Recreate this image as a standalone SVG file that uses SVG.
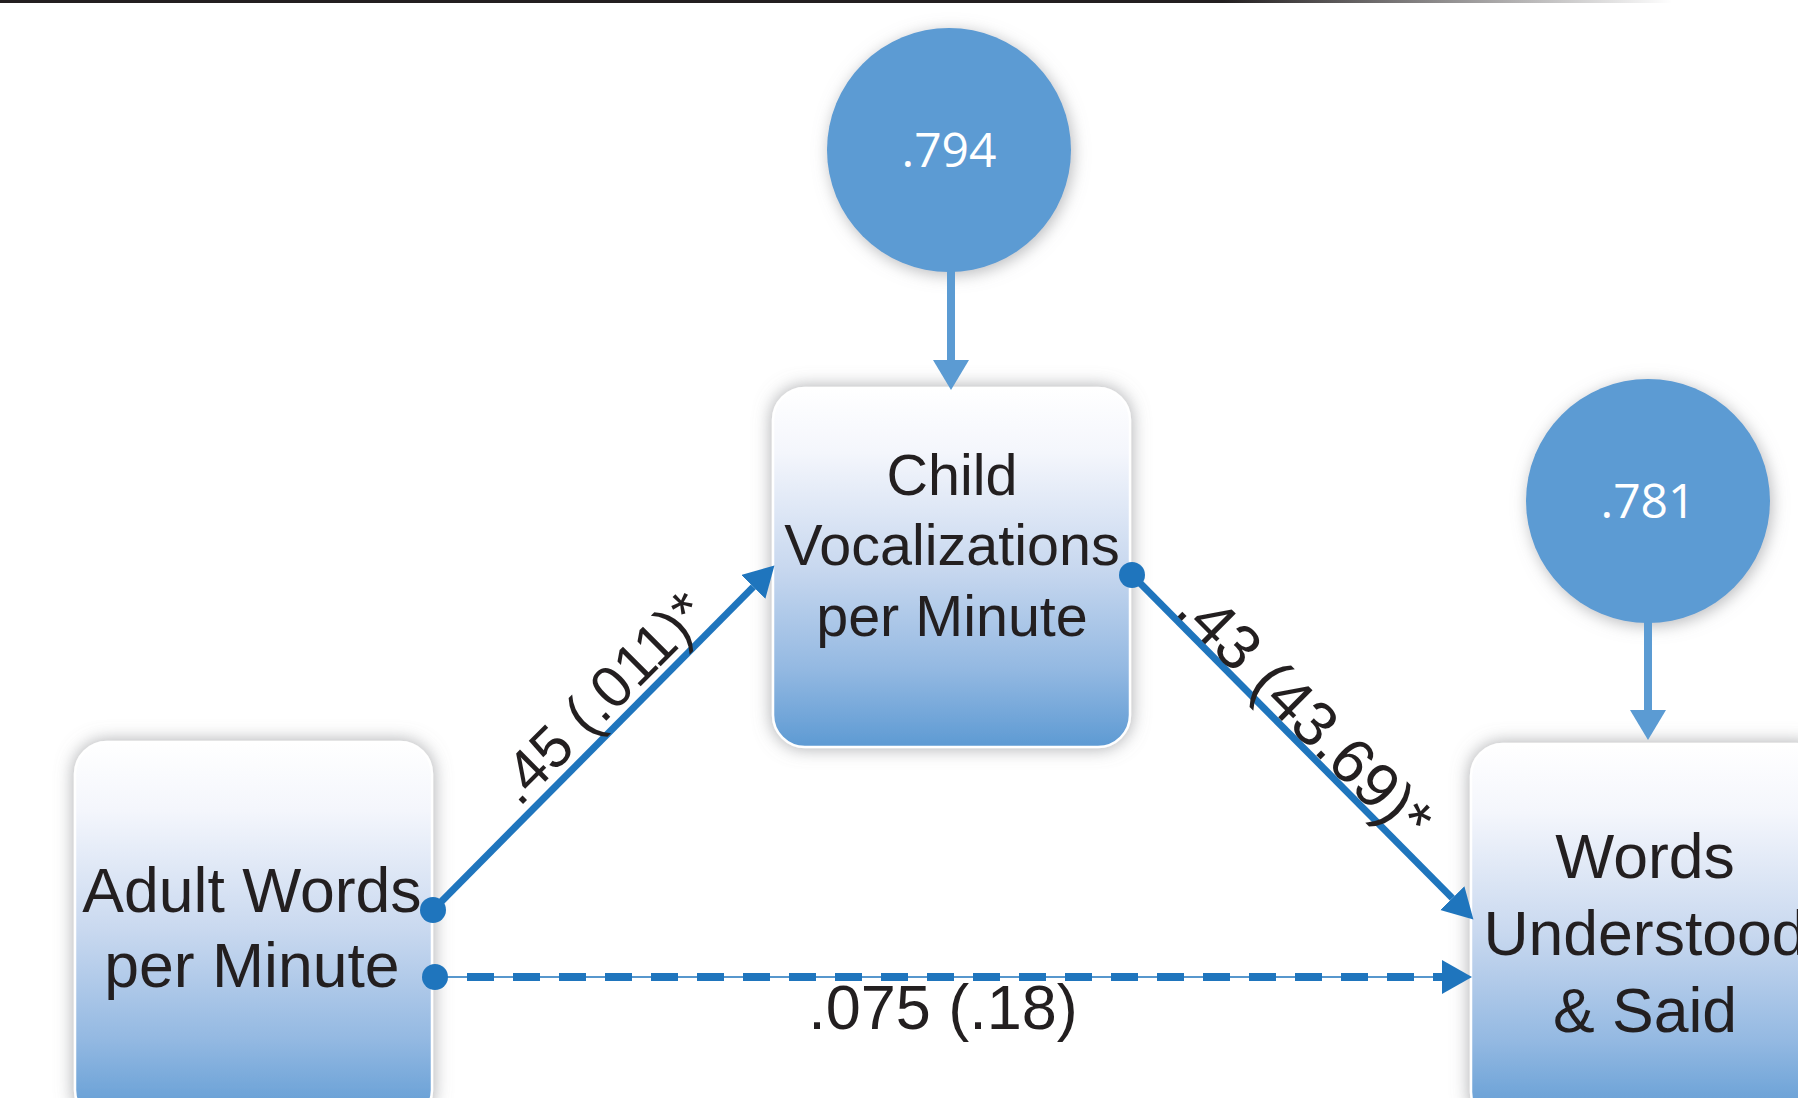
<svg xmlns="http://www.w3.org/2000/svg" width="1798" height="1098" viewBox="0 0 1798 1098">
<defs>
<linearGradient id="boxg" x1="0" y1="0" x2="0" y2="1">
<stop offset="0" stop-color="#ffffff"/>
<stop offset="0.18" stop-color="#f4f6fc"/>
<stop offset="0.5" stop-color="#c8d8ef"/>
<stop offset="0.78" stop-color="#94b9e2"/>
<stop offset="1" stop-color="#5d9ad3"/>
</linearGradient>
<linearGradient id="barg" x1="0" y1="0" x2="1" y2="0">
<stop offset="0" stop-color="#231f20"/>
<stop offset="0.68" stop-color="#231f20"/>
<stop offset="0.93" stop-color="#ffffff"/>
</linearGradient>
<filter id="shadow" x="-20%" y="-20%" width="140%" height="140%">
<feGaussianBlur in="SourceAlpha" stdDeviation="9"/>
<feOffset dx="0" dy="0" result="b"/>
<feFlood flood-color="#8a8c90" flood-opacity="0.75"/>
<feComposite in2="b" operator="in"/>
<feMerge><feMergeNode/><feMergeNode in="SourceGraphic"/></feMerge>
</filter>
<filter id="cshadow" x="-20%" y="-20%" width="140%" height="140%">
<feGaussianBlur in="SourceAlpha" stdDeviation="8"/>
<feOffset dx="2" dy="3" result="b"/>
<feFlood flood-color="#8a8c90" flood-opacity="0.6"/>
<feComposite in2="b" operator="in"/>
<feMerge><feMergeNode/><feMergeNode in="SourceGraphic"/></feMerge>
</filter>
<marker id="ah" markerUnits="userSpaceOnUse" markerWidth="32" markerHeight="36" refX="0" refY="17" orient="auto">
<path d="M0,0 L30,17 L0,34 Z" fill="#1f75bd"/>
</marker>
<marker id="ah2" markerUnits="userSpaceOnUse" markerWidth="32" markerHeight="38" refX="0" refY="18" orient="auto">
<path d="M0,0 L30,18 L0,36 Z" fill="#5b9bd3"/>
</marker>
<style>
.box{fill:url(#boxg);stroke:#ffffff;stroke-width:2.5;filter:url(#shadow)}
.circ{fill:#5b9bd3;filter:url(#cshadow)}
.lbl{font-family:"Liberation Sans",Arial,sans-serif;fill:#231f20;text-anchor:middle}
.ctext{font-family:"Open Sans","Noto Sans",sans-serif;fill:#ffffff;font-size:48px;text-anchor:middle}
.conn{stroke:#1f75bd;stroke-width:7;fill:none}
.err{stroke:#5b9bd3;stroke-width:8;fill:none}
.dot{fill:#1f75bd}
</style>
</defs>
<rect x="0" y="0" width="1798" height="1098" fill="#ffffff"/>
<rect x="0" y="0" width="1798" height="3" fill="url(#barg)"/>

<g id="node-child">
<rect class="box" x="773" y="388" width="357" height="359" rx="32"/>
<text class="lbl" font-size="57.5"><tspan x="952" y="495">Child</tspan><tspan x="952" y="565">Vocalizations</tspan><tspan x="952" y="636">per Minute</tspan></text>
</g>
<g id="node-adult">
<rect class="box" x="75" y="742" width="357" height="380" rx="32"/>
<text class="lbl" font-size="62.5"><tspan x="252" y="912">Adult Words</tspan><tspan x="252" y="987">per Minute</tspan></text>
</g>
<g id="node-words">
<rect class="box" x="1471" y="744" width="357" height="380" rx="32"/>
<text class="lbl" font-size="62.5"><tspan x="1645" y="878">Words</tspan><tspan x="1645" y="955">Understood</tspan><tspan x="1645" y="1032">&amp; Said</tspan></text>
</g>
<g id="node-err1">
<circle class="circ" cx="949" cy="150" r="122"/>
<text class="ctext" x="949" y="167">.794</text>
</g>
<g id="node-err2">
<circle class="circ" cx="1648" cy="501" r="122"/>
<text class="ctext" x="1648" y="518">.781</text>
</g>

<g id="connectors">
<line class="err" x1="951" y1="270" x2="951" y2="360" marker-end="url(#ah2)"/>
<line class="err" x1="1648" y1="621" x2="1648" y2="710" marker-end="url(#ah2)"/>
<line class="conn" x1="433" y1="910" x2="753.3" y2="586.9" marker-end="url(#ah)"/>
<circle class="dot" cx="433" cy="910" r="13"/>
<line class="conn" x1="1132" y1="575" x2="1452.3" y2="898.1" marker-end="url(#ah)"/>
<circle class="dot" cx="1132" cy="575" r="13"/>
<line x1="435" y1="977" x2="1445" y2="977" stroke="#1f75bd" stroke-width="1.6"/>
<line x1="467" y1="977" x2="1442" y2="977" stroke="#1f75bd" stroke-width="8" stroke-dasharray="27 19" marker-end="url(#ah)"/>
<circle class="dot" cx="435" cy="977" r="13"/>
<text class="lbl" font-size="59" transform="translate(615 712) rotate(-45)" x="0" y="0">.45 (.011)*</text>
<text class="lbl" font-size="63" transform="translate(1290 729) rotate(45)" x="0" y="0">.43 (43.69)*</text>
<text class="lbl" font-size="63" x="943" y="1029">.075 (.18)</text>
</g>
</svg>
